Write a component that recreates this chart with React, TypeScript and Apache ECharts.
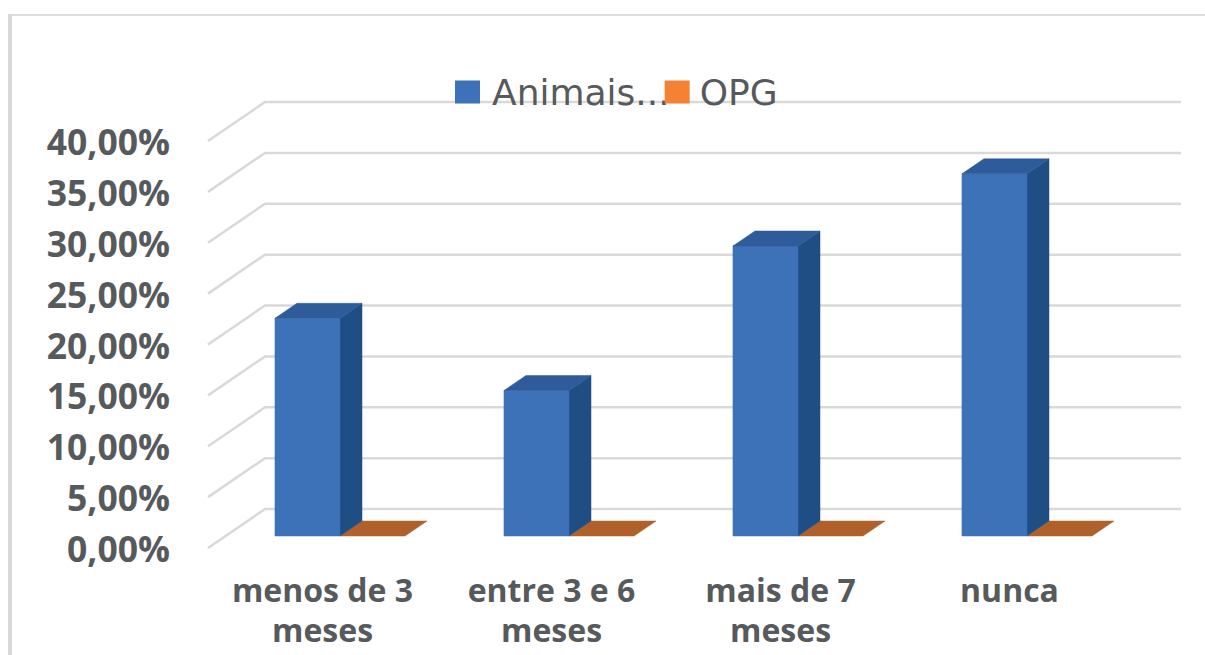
import React, { useEffect, useRef } from "react";
import * as echarts from "echarts";

const categories = ["menos de 3\nmeses", "entre 3 e 6\nmeses", "mais de 7\nmeses", "nunca"];
const animaisValues = [21.4, 14.3, 28.5, 35.6];
const opgValues = [0, 0, 0, 0];
const gridTicks = [0, 5, 10, 15, 20, 25, 30, 35, 40];

const FONT = "'Open Sans', sans-serif";
const LEGEND_FONT = "'DejaVu Sans', sans-serif";
const TEXT = "#575a5c";

// Oblique projection of the 3D plot: wall depth, and bar depth and inset from the floor edge.
const WALL_DX = 57;
const WALL_DY = -39;
const BAR_INSET_X = 17.5;
const BAR_INSET_Y = -12;
const BAR_DX = 22;
const BAR_DY = -15;
const BAR_SHARE = 0.284;

function poly(points: number[][], fill: string) {
  return { type: "polygon", shape: { points }, style: { fill, stroke: fill, lineWidth: 0.5 } };
}

// The two series of a category meet at the band's centre: slot -1 sits left of it, slot 0 right.
function barRenderer(slot: number, front: string, side: string, top: string) {
  return (params: any, api: any) => {
    const base = api.coord([api.value(0), 0]);
    const head = api.coord([api.value(0), api.value(1)]);
    const w = api.size([1, 0])[0] * BAR_SHARE;
    const x0 = base[0] + BAR_INSET_X + slot * w;
    const x1 = x0 + w;
    const y0 = base[1] + BAR_INSET_Y;
    const y1 = head[1] + BAR_INSET_Y;
    const children: any[] = [];
    if (y0 - y1 > 0.5) {
      children.push(poly([[x1, y0], [x1 + BAR_DX, y0 + BAR_DY], [x1 + BAR_DX, y1 + BAR_DY], [x1, y1]], side));
      children.push(poly([[x0, y0], [x1, y0], [x1, y1], [x0, y1]], front));
    }
    children.push(poly([[x0, y1], [x1, y1], [x1 + BAR_DX, y1 + BAR_DY], [x0 + BAR_DX, y1 + BAR_DY]], top));
    return { type: "group", children };
  };
}

function gridRenderer(params: any, api: any) {
  const cs = params.coordSys;
  const p = api.coord([0, api.value(1)]);
  const left = cs.x;
  const right = cs.x + cs.width;
  return {
    type: "polyline",
    shape: { points: [[left, p[1]], [left + WALL_DX, p[1] + WALL_DY], [right + WALL_DX, p[1] + WALL_DY]] },
    style: { fill: "none", stroke: "#d9d9d9", lineWidth: 2.5 },
  };
}

export default function App() {
  const ref = useRef<HTMLDivElement>(null);

  useEffect(() => {
    const chart = echarts.init(ref.current!, undefined, { renderer: "svg" });
    chart.setOption({
      animation: false,
      backgroundColor: "#ffffff",
      graphic: [
        { type: "rect", shape: { x: 8, y: 14, width: 1197, height: 2 }, style: { fill: "#dedede" } },
        { type: "rect", shape: { x: 8, y: 14, width: 4, height: 641 }, style: { fill: "#d9d9d9" } },
      ],
      legend: {
        data: [
          { name: "Animais...", textStyle: { padding: [0, 0, 0, 7] } },
          { name: "OPG", textStyle: { padding: [0, 0, 0, 5] } },
        ],
        left: 450,
        top: 69,
        itemWidth: 25,
        itemHeight: 23,
        itemGap: -5,
        icon: "rect",
        textStyle: { fontFamily: LEGEND_FONT, fontSize: 36, color: TEXT },
      },
      grid: { left: 208, top: 141, width: 916, height: 407 },
      xAxis: {
        type: "category",
        data: categories,
        axisLine: { show: false },
        axisTick: { show: false },
        axisLabel: {
          interval: 0,
          margin: 21,
          verticalAlign: "top",
          fontFamily: FONT,
          fontWeight: "bold",
          fontSize: 32,
          lineHeight: 40,
          color: TEXT,
        },
      },
      yAxis: {
        type: "value",
        min: 0,
        max: 40,
        interval: 5,
        axisLine: { show: false },
        axisTick: { show: false },
        splitLine: { show: false },
        axisLabel: {
          margin: 38,
          fontFamily: FONT,
          fontWeight: "bold",
          fontSize: 35.5,
          color: TEXT,
          formatter: (v: number) => v.toFixed(2).replace(".", ",") + "%",
        },
      },
      series: [
        {
          type: "custom",
          name: "grade",
          silent: true,
          z: 1,
          renderItem: gridRenderer,
          data: gridTicks.map((t) => [0, t]),
          encode: { x: 0, y: 1 },
        },
        {
          type: "custom",
          name: "OPG",
          z: 2,
          itemStyle: { color: "#f58233" },
          renderItem: barRenderer(0, "#ed7d31", "#b5622b", "#b0612b"),
          data: opgValues.map((v, i) => [i, v]),
          encode: { x: 0, y: 1 },
        },
        {
          type: "custom",
          name: "Animais...",
          z: 3,
          itemStyle: { color: "#3d71b8" },
          renderItem: barRenderer(-1, "#3d71b8", "#1f4e84", "#2e5b9a"),
          data: animaisValues.map((v, i) => [i, v]),
          encode: { x: 0, y: 1 },
        },
      ],
    });
    return () => chart.dispose();
  }, []);

  return <div ref={ref} style={{ position: "fixed", left: 0, top: 0, width: 1205, height: 655 }} />;
}
